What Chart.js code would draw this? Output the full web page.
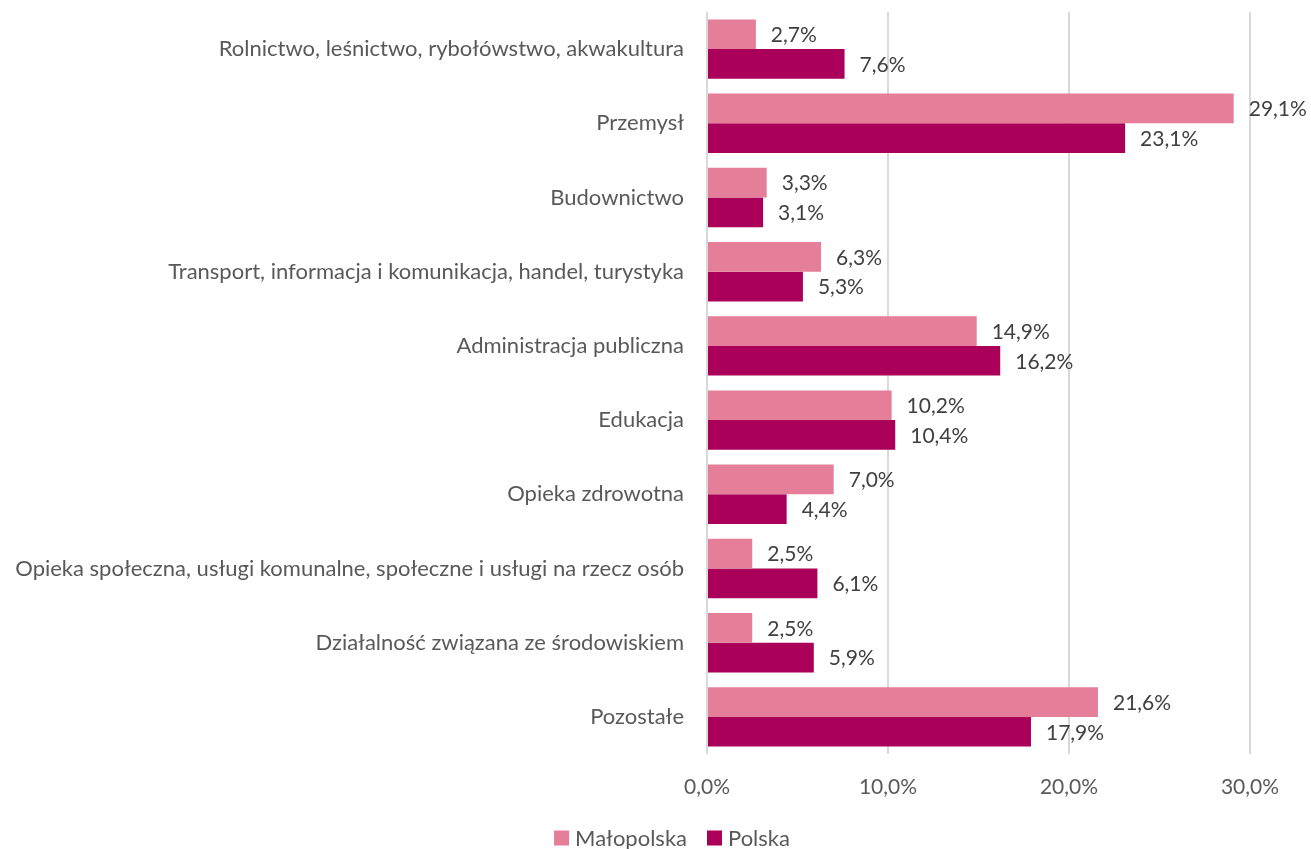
<!DOCTYPE html>
<html>
<head>
<meta charset="utf-8">
<script src="https://cdn.jsdelivr.net/npm/chart.js@4"></script>
<style>
  html, body { margin: 0; padding: 0; background: #fff; }
  #wrap { width: 1311px; height: 849px; }
</style>
</head>
<body>
<div id="wrap"><canvas id="chart" width="1311" height="849"></canvas></div>
<script>
const categories = [
    "Rolnictwo, leśnictwo, rybołówstwo, akwakultura",
    "Przemysł",
    "Budownictwo",
    "Transport, informacja i komunikacja, handel, turystyka",
    "Administracja publiczna",
    "Edukacja",
    "Opieka zdrowotna",
    "Opieka społeczna, usługi komunalne, społeczne i usługi na rzecz osób",
    "Działalność związana ze środowiskiem",
    "Pozostałe"
];
const malopolska = [2.7, 29.1, 3.3, 6.3, 14.9, 10.2, 7.0, 2.5, 2.5, 21.6];
const polska = [7.6, 23.1, 3.1, 5.3, 16.2, 10.4, 4.4, 6.1, 5.9, 17.9];
const xTicks = [0, 10, 20, 30];

const FONT = "Lato, 'Open Sans', sans-serif";
const TEXT = "#595959";

function pct(v) {
    return v.toFixed(1).replace('.', ',') + '%';
}

// value labels right of each bar
const valueLabels = {
    id: 'valueLabels',
    afterDatasetsDraw(chart) {
        const ctx = chart.ctx;
        ctx.save();
        ctx.font = "21px " + FONT;
        ctx.fillStyle = "#404040";
        ctx.textAlign = 'left';
        ctx.textBaseline = 'middle';
        chart.data.datasets.forEach((ds, i) => {
            chart.getDatasetMeta(i).data.forEach((bar, j) => {
                ctx.fillText(pct(ds.data[j]), bar.x + 15, bar.y + 1);
            });
        });
        ctx.restore();
    }
};

// simple legend under the axis, centred like the excel one
const bottomLegend = {
    id: 'bottomLegend',
    afterDraw(chart) {
        const ctx = chart.ctx;
        const box = 15, gap = 6, spacing = 20, cy = 838;
        ctx.save();
        ctx.font = "22px " + FONT;
        ctx.textBaseline = 'middle';
        const items = chart.data.datasets.map(ds => ({
            text: ds.label, color: ds.backgroundColor, w: box + gap + ctx.measureText(ds.label).width
        }));
        const total = items.reduce((s, it) => s + it.w, 0) + spacing * (items.length - 1);
        let x = 672 - total / 2;
        items.forEach(it => {
            ctx.fillStyle = it.color;
            ctx.fillRect(x, cy - box / 2, box, box);
            ctx.fillStyle = TEXT;
            ctx.fillText(it.text, x + box + gap, cy + 1);
            x += it.w + spacing;
        });
        ctx.restore();
    }
};

new Chart(document.getElementById('chart'), {
    type: 'bar',
    data: {
        labels: categories,
        datasets: [
            {
                label: "Małopolska",
                data: malopolska,
                backgroundColor: "#E57E99",
                categoryPercentage: 0.8,
                barPercentage: 1.0
            },
            {
                label: "Polska",
                data: polska,
                backgroundColor: "#AA0059",
                categoryPercentage: 0.8,
                barPercentage: 1.0
            }
        ]
    },
    options: {
        indexAxis: 'y',
        responsive: false,
        animation: false,
        layout: { padding: { top: 12, right: 61, left: 0, bottom: 45 } },
        plugins: {
            legend: { display: false },
            tooltip: { enabled: false }
        },
        scales: {
            x: {
                min: 0,
                max: 30,
                afterBuildTicks: (axis) => { axis.ticks = xTicks.map(v => ({value: v})); },
                afterFit: (axis) => {
                    axis.height = 50;
                    axis.paddingLeft = 0; axis.paddingRight = 0;
                },
                ticks: {
                    callback: (v) => pct(v),
                    font: { family: FONT, size: 21 },
                    color: TEXT,
                    padding: 21
                },
                grid: { color: "#D9D9D9", lineWidth: 2, drawTicks: false },
                border: { display: false }
            },
            y: {
                afterFit: (axis) => {
                    axis.width = 707;
                    axis.paddingTop = 0; axis.paddingBottom = 0;
                },
                ticks: {
                    font: { family: FONT, size: 22 },
                    color: TEXT,
                    padding: 23
                },
                grid: { display: false, drawTicks: false },
                border: { display: false }
            }
        }
    },
    plugins: [valueLabels, bottomLegend]
});
</script>
</body>
</html>
